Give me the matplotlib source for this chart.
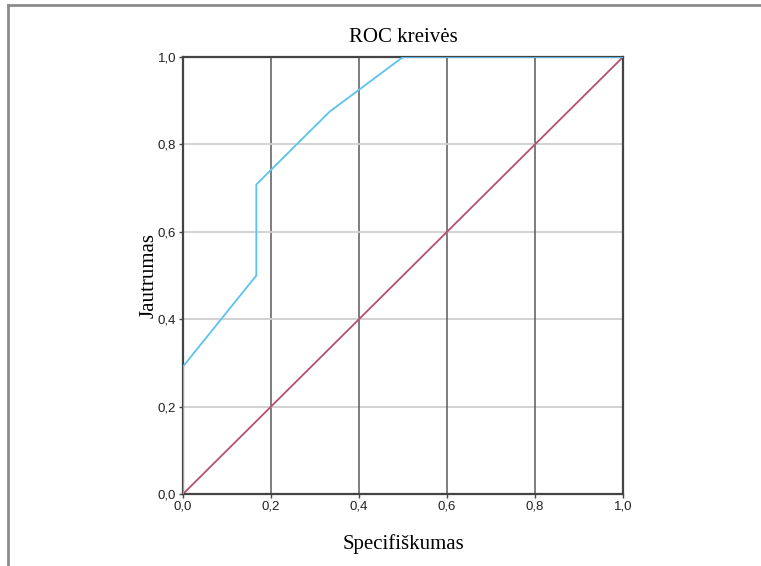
import matplotlib
matplotlib.use("Agg")
import matplotlib.pyplot as plt
from matplotlib.lines import Line2D
from matplotlib.ticker import FuncFormatter

# ROC curve (1 - specificity, sensitivity)
roc_x = [0.0, 0.0, 1/6, 1/6, 1/3, 0.5, 1.0]
roc_y = [0.0, 7/24, 12/24, 17/24, 21/24, 1.0, 1.0]
ref_x = [0.0, 1.0]
ref_y = [0.0, 1.0]
ticks = [0.0, 0.2, 0.4, 0.6, 0.8, 1.0]

fig = plt.figure(figsize=(7.61, 5.66), dpi=100)
ax = fig.add_axes([183/761, 72/566, 440/761, 437/566])

# figure frame (top + left only visible)
fig.add_artist(Line2D([8/761, 1.0], [1 - 5/566, 1 - 5/566], transform=fig.transFigure,
                      color="#8c8c8c", lw=2))
fig.add_artist(Line2D([8/761, 8/761], [0.0, 1 - 5/566], transform=fig.transFigure,
                      color="#8c8c8c", lw=2))

for t in ticks[1:-1]:
    ax.axvline(t, color="#5a5a5a", lw=1.1, zorder=1)
    ax.axhline(t, color="#cfcfcf", lw=1.3, zorder=1)

ax.plot(ref_x, ref_y, color="#b5506f", lw=1.3, zorder=2)
ax.plot(roc_x, roc_y, color="#5bc3ef", lw=1.3, zorder=3)

ax.set_xlim(0, 1)
ax.set_ylim(0, 1)
ax.set_xticks(ticks)
ax.set_yticks(ticks)
fmt = FuncFormatter(lambda v, p: f"{v:.1f}".replace(".", ","))
ax.xaxis.set_major_formatter(fmt)
ax.yaxis.set_major_formatter(fmt)
ax.tick_params(direction="out", length=3, width=1, color="#444444", labelsize=9.5,
               labelcolor="#222222", pad=2)
for lab in ax.get_xticklabels() + ax.get_yticklabels():
    lab.set_family("Liberation Sans")
for s in ax.spines.values():
    s.set_color("#444444")
    s.set_linewidth(1.6)

serif = "Liberation Serif"
ax.set_title("ROC kreivės", family=serif, fontsize=15, pad=11)
ax.set_xlabel("Specifiškumas", family=serif, fontsize=15, labelpad=15.5)
ax.set_ylabel("Jautrumas", family=serif, fontsize=15, labelpad=-1)

fig.savefig("out.png", dpi=100)
